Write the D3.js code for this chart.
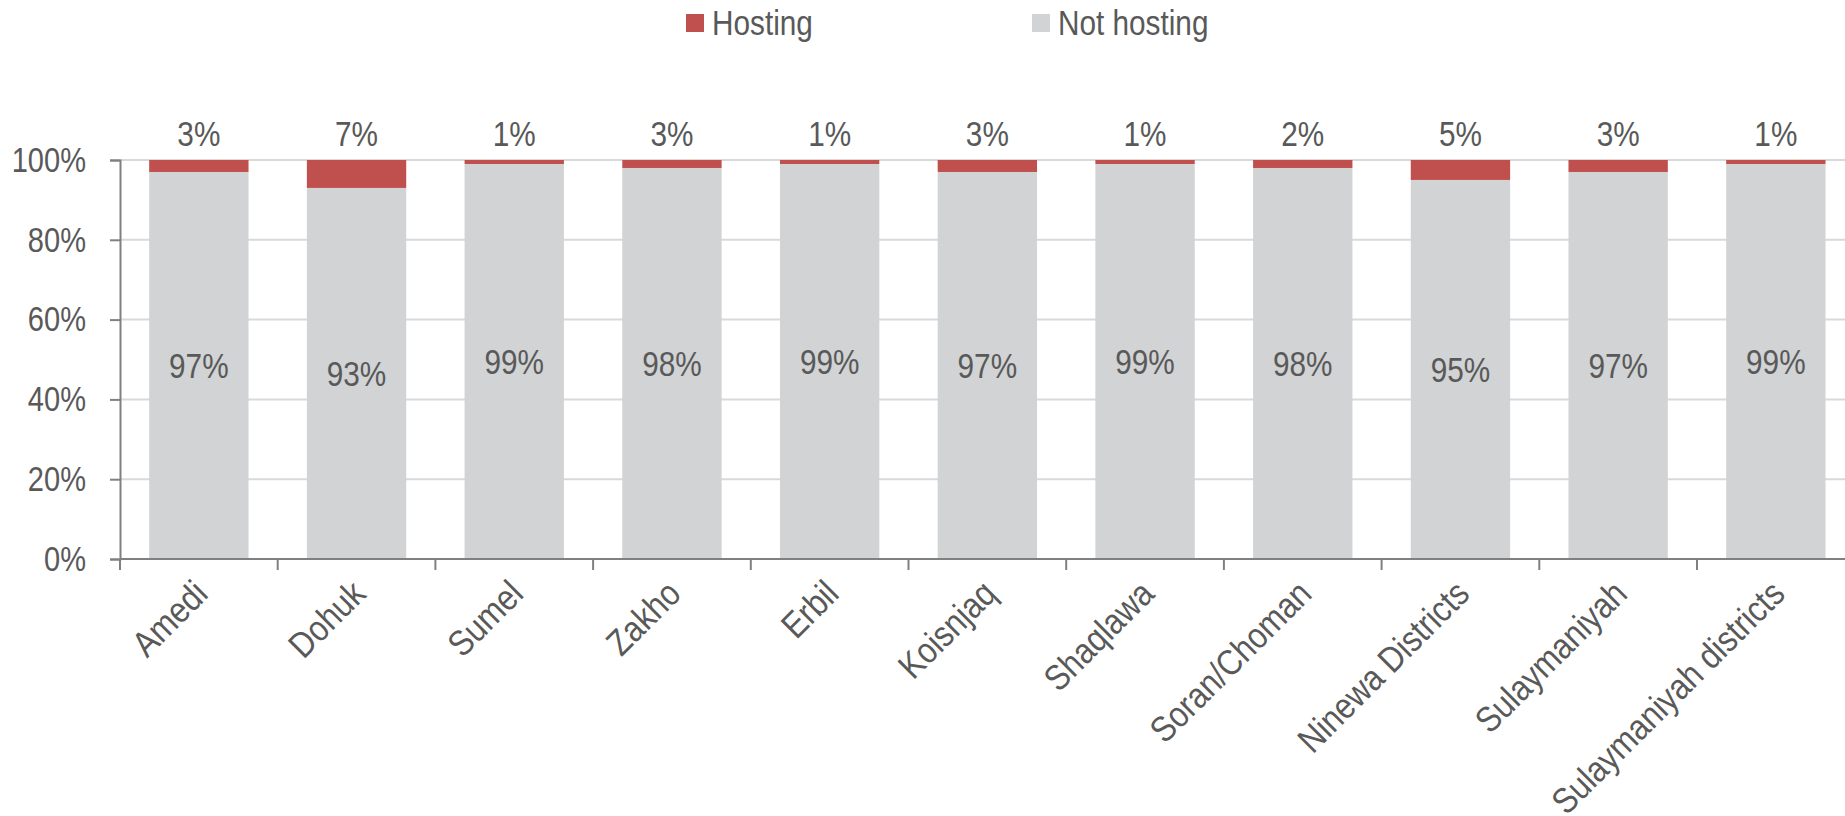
<!DOCTYPE html>
<meta charset="utf-8">
<head>
<style>
  body { margin: 0; background: #fff; }
  svg text { font-family: "Liberation Sans Narrow", "Arial Narrow", "Liberation Sans", Arial, sans-serif; fill: #595959; }
</style>
</head>
<body>
<svg id="chart" width="1845" height="816"></svg>
<script src="https://cdn.jsdelivr.net/npm/d3@7"></script>
<script>

// categories and values (percent)
var districts = ["Amedi", "Dohuk", "Sumel", "Zakho", "Erbil", "Koisnjaq", "Shaqlawa",
                 "Soran/Choman", "Ninewa Districts", "Sulaymaniyah", "Sulaymaniyah districts"];
var hosting    = [3, 7, 1, 3, 1, 3, 1, 2, 5, 3, 1];
var notHosting = [97, 93, 99, 98, 99, 97, 99, 98, 95, 97, 99];
var yTicks = [0, 20, 40, 60, 80, 100];

var seriesNames = ["Hosting", "Not hosting"];
var colors = { "Hosting": "#C0504D", "Not hosting": "#D1D3D4" };

var svg = d3.select("#chart"),
    width = +svg.attr("width"),
    height = +svg.attr("height");

var plotLeft = 120, plotTop = 160, plotBottom = 559;
var step = 157.7;
var fontSize = "35px";
var squeeze = "scale(0.85,1)";   // narrow face is not installed, squeeze the regular one

var x = d3.scaleBand()
    .domain(districts)
    .range([plotLeft, plotLeft + step * districts.length])
    .paddingInner(0.37)
    .paddingOuter(0.185);

var y = d3.scaleLinear()
    .domain([0, 100])
    .range([plotBottom, plotTop]);

// gridlines
svg.append("g")
  .selectAll("line")
  .data(yTicks.filter(function(d){ return d > 0 }))
  .enter()
  .append("line")
    .attr("x1", plotLeft)
    .attr("x2", width)
    .attr("y1", function(d){ return y(d) })
    .attr("y2", function(d){ return y(d) })
    .attr("stroke", "#D9D9D9")
    .attr("stroke-width", 2);

// table for stacking
var rows = districts.map(function(d, i){
  return { district: d, "Hosting": hosting[i], "Not hosting": notHosting[i] };
});
var layers = d3.stack().keys(["Not hosting", "Hosting"])(rows);

svg.append("g")
  .selectAll("g")
  .data(layers)
  .enter()
  .append("g")
    .attr("fill", function(d){ return colors[d.key] })
  .selectAll("rect")
  .data(function(d){ return d })
  .enter()
  .append("rect")
    .attr("x", function(d){ return x(d.data.district) })
    .attr("width", x.bandwidth())
    .attr("y", function(d){ return y(Math.min(d[1], 100)) })
    .attr("height", function(d){ return y(d[0]) - y(Math.min(d[1], 100)) });

// y axis
var yAxis = d3.axisLeft(y)
    .tickValues(yTicks)
    .tickSize(10)
    .tickPadding(0)
    .tickFormat(function(d){ return d + "%" });

var gy = svg.append("g")
    .attr("transform", "translate(" + plotLeft + ",0)")
    .call(yAxis);
gy.select(".domain").attr("stroke", "#808080").attr("stroke-width", 2);
gy.selectAll(".tick line").attr("stroke", "#808080").attr("stroke-width", 2);
gy.selectAll(".tick text")
    .attr("x", null)
    .attr("transform", "translate(-34,0) scale(0.83,1)")
    .style("font-size", fontSize)
    .attr("fill", "#595959");

// x axis line + ticks at category boundaries
var gap = (x.step() - x.bandwidth()) / 2;
var boundaries = districts.map(function(d){ return x(d) - gap });
boundaries.push(x.range()[1]);

svg.append("line")
    .attr("x1", plotLeft).attr("x2", width)
    .attr("y1", plotBottom).attr("y2", plotBottom)
    .attr("stroke", "#808080").attr("stroke-width", 2);

svg.append("g")
  .selectAll("line")
  .data(boundaries)
  .enter()
  .append("line")
    .attr("x1", function(d){ return d })
    .attr("x2", function(d){ return d })
    .attr("y1", plotBottom)
    .attr("y2", plotBottom + 11)
    .attr("stroke", "#808080")
    .attr("stroke-width", 2);

// x labels, rotated
svg.append("g")
  .selectAll("text")
  .data(districts)
  .enter()
  .append("text")
    .attr("transform", function(d){
      return "translate(" + (x(d) + x.bandwidth() / 2 + 2) + "," + (plotBottom + 28) + ") rotate(-45) scale(0.87,1)";
    })
    .attr("text-anchor", "end")
    .attr("dy", "0.35em")
    .style("font-size", "36px")
    .text(function(d){ return d });

// value labels: not hosting inside the grey part
svg.append("g")
  .selectAll("text")
  .data(notHosting)
  .enter()
  .append("text")
    .attr("transform", function(d, i){
      return "translate(" + (x(districts[i]) + x.bandwidth() / 2) + "," + y(d / 2) + ") " + squeeze;
    })
    .attr("dy", "0.35em")
    .attr("text-anchor", "middle")
    .style("font-size", fontSize)
    .text(function(d){ return d + "%" });

// value labels: hosting above the bar
svg.append("g")
  .selectAll("text")
  .data(hosting)
  .enter()
  .append("text")
    .attr("transform", function(d, i){
      return "translate(" + (x(districts[i]) + x.bandwidth() / 2) + "," + (y(100) - 26) + ") " + squeeze;
    })
    .attr("dy", "0.35em")
    .attr("text-anchor", "middle")
    .style("font-size", fontSize)
    .text(function(d){ return d + "%" });

// legend
var legendX = [686, 1032];
var legend = svg.append("g")
  .selectAll("g")
  .data(seriesNames)
  .enter()
  .append("g")
    .attr("transform", function(d, i){ return "translate(" + legendX[i] + ",14)" });

legend.append("rect")
    .attr("width", 18)
    .attr("height", 18)
    .attr("fill", function(d){ return colors[d] });

legend.append("text")
    .attr("transform", "translate(26,9) " + squeeze)
    .attr("dy", "0.35em")
    .style("font-size", fontSize)
    .text(function(d){ return d });

</script>
</body>
